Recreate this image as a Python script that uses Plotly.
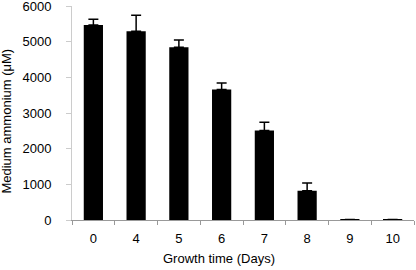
import plotly.graph_objects as go

days = ["0", "4", "5", "6", "7", "8", "9", "10"]
ammonium = [5470, 5290, 4840, 3660, 2510, 820, 15, 15]
err = [160, 450, 210, 180, 230, 220, 0, 0]

fig = go.Figure()
fig.add_trace(go.Bar(
    x=days, y=ammonium,
    marker=dict(color="black", line=dict(width=0)),
    error_y=dict(type="data", array=err, arrayminus=[0]*len(err), symmetric=False,
                 color="black", thickness=1.5, width=5),
    width=0.45,
))
fig.update_layout(
    width=416, height=270,
    margin=dict(l=72, r=2, t=6, b=50),
    paper_bgcolor="white", plot_bgcolor="white",
    font=dict(family="Liberation Sans, Arial, sans-serif", size=13, color="black"),
    showlegend=False,
    xaxis=dict(
        type="category", automargin=False,
        showline=True, linecolor="#999999", linewidth=1,
        ticks="outside", tickson="boundaries", ticklen=4, tickcolor="#999999",
        showgrid=False,
        tickfont=dict(size=13), ticklabelstandoff=6,
    ),
    yaxis=dict(
        automargin=False,
        range=[0, 6000], tickvals=[0, 1000, 2000, 3000, 4000, 5000, 6000],
        showline=True, linecolor="#cccccc", linewidth=1,
        ticks="outside", ticklen=5, tickcolor="#cccccc",
        showgrid=False, zeroline=False, ticklabeloverflow="allow",
        tickfont=dict(size=13), ticklabelstandoff=12,
    ),
    annotations=[
        dict(text="Medium ammonium (μM)", xref="paper", yref="paper",
             x=0, xshift=-65, y=0.46, xanchor="center", yanchor="middle",
             textangle=-90, showarrow=False, font=dict(size=13)),
        dict(text="Growth time (Days)", xref="paper", yref="paper",
             x=0.43, y=0, yshift=-38, xanchor="center", yanchor="middle",
             showarrow=False, font=dict(size=13)),
    ],
)
fig.write_html("out.html", config={"displayModeBar": False},
               post_script="document.body.style.margin='0';")
